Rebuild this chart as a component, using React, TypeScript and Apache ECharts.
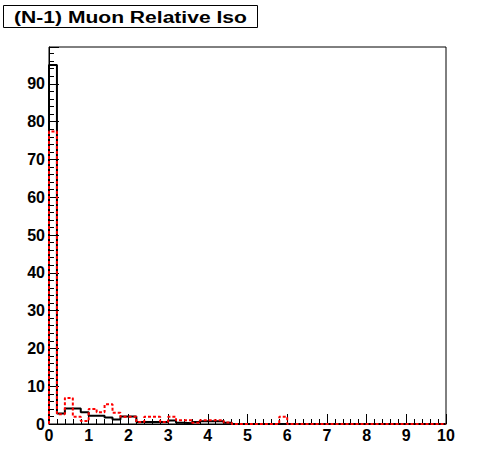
import React, { useEffect, useRef } from "react";
import * as echarts from "echarts";

const titleText = "(N-1) Muon Relative Iso";
const binWidth = 0.2;
const xTicks = [0, 1, 2, 3, 4, 5, 6, 7, 8, 9, 10];
const yTicks = [0, 10, 20, 30, 40, 50, 60, 70, 80, 90];

// 50 bins of width 0.2 from 0 to 10
const blackValues = [
  95, 2.8, 4.1, 4.1, 3.1, 2.2, 2.2, 1.7, 1.2, 2.0,
  2.0, 0.5, 0.5, 0.5, 0.5, 0.9, 0.3, 0.2, 0.5, 0.7,
  0.7, 0.7, 0.3, 0, 0, 0, 0, 0, 0, 0,
  0, 0, 0, 0, 0, 0, 0, 0, 0, 0,
  0, 0, 0, 0, 0, 0, 0, 0, 0, 0,
];
const redValues = [
  77.4, 2.6, 6.9, 1.9, 0.8, 4.0, 3.1, 5.2, 3.0, 1.9,
  1.9, 0.5, 1.9, 1.9, 0.5, 1.9, 1.0, 1.0, 0.3, 1.0,
  1.0, 1.0, 0.4, 0, 0, 0, 0, 0, 0, 1.9,
  0, 0, 0, 0, 0, 0, 0, 0, 0, 0,
  0, 0, 0, 0, 0, 0, 0, 0, 0, 0,
];

function stepData(vals: number[]): number[][] {
  const pts: number[][] = [[0, 0]];
  vals.forEach((v, i) => pts.push([+(i * binWidth).toFixed(2), v]));
  const end = +(vals.length * binWidth).toFixed(2);
  pts.push([end, vals[vals.length - 1]]);
  pts.push([end, 0]);
  return pts;
}

const FONT = "'Liberation Sans', Arial, Helvetica, sans-serif";

export default function App() {
  const ref = useRef<HTMLDivElement>(null);
  useEffect(() => {
    if (!ref.current) return;
    const chart = echarts.init(ref.current, undefined, { renderer: "svg" });
    const yMax = 99.75;
    chart.setOption({
      animation: false,
      backgroundColor: "#ffffff",
      grid: {
        left: 49,
        right: 50,
        top: 47,
        bottom: 48,
        show: true,
        borderColor: "#000",
        borderWidth: 1,
        backgroundColor: "transparent",
      },
      graphic: [
        {
          type: "rect",
          shape: { x: 3.5, y: 5.5, width: 254, height: 22 },
          style: { fill: "#fff", stroke: "#000", lineWidth: 1 },
          z: 10,
        },
        {
          type: "text",
          x: 130.5,
          y: 17,
          scaleX: 1.24,
          style: {
            text: titleText,
            font: `bold 17px ${FONT}`,
            fill: "#000",
            align: "center",
            verticalAlign: "middle",
          },
          z: 11,
        },
      ],
      xAxis: {
        type: "value",
        min: xTicks[0],
        max: xTicks[xTicks.length - 1],
        interval: 1,
        axisLine: { show: true, onZero: false, lineStyle: { color: "#000", width: 1 } },
        axisTick: { show: true, inside: true, length: 10, lineStyle: { color: "#000" } },
        minorTick: { show: true, splitNumber: 5, length: 5, lineStyle: { color: "#000" } },
        splitLine: { show: false },
        axisLabel: {
          color: "#000",
          fontFamily: FONT,
          fontWeight: "bold",
          fontSize: 16,
          margin: 3,
        },
      },
      yAxis: {
        type: "value",
        min: yTicks[0],
        max: yMax,
        interval: 10,
        axisLine: { show: true, onZero: false, lineStyle: { color: "#000", width: 1 } },
        axisTick: { show: true, inside: true, length: 10, lineStyle: { color: "#000" } },
        minorTick: { show: true, splitNumber: 5, length: 5, lineStyle: { color: "#000" } },
        splitLine: { show: false },
        axisLabel: {
          color: "#000",
          fontFamily: FONT,
          fontWeight: "bold",
          fontSize: 16,
          margin: 4,
          showMaxLabel: false,
          formatter: (v: number) => (yTicks.includes(v) ? String(v) : ""),
        },
      },
      series: [
        {
          type: "line",
          step: "end",
          data: stepData(blackValues),
          showSymbol: false,
          symbol: "none",
          lineStyle: { color: "#000", width: 2 },
          z: 2,
        },
        {
          type: "line",
          step: "end",
          data: stepData(redValues),
          showSymbol: false,
          symbol: "none",
          lineStyle: { color: "#ff0000", width: 2, type: [3, 2] },
          z: 3,
        },
      ],
    });
    return () => chart.dispose();
  }, []);
  return (
    <div
      ref={ref}
      style={{ position: "fixed", left: 0, top: 0, width: 496, height: 472, background: "#fff" }}
    />
  );
}
